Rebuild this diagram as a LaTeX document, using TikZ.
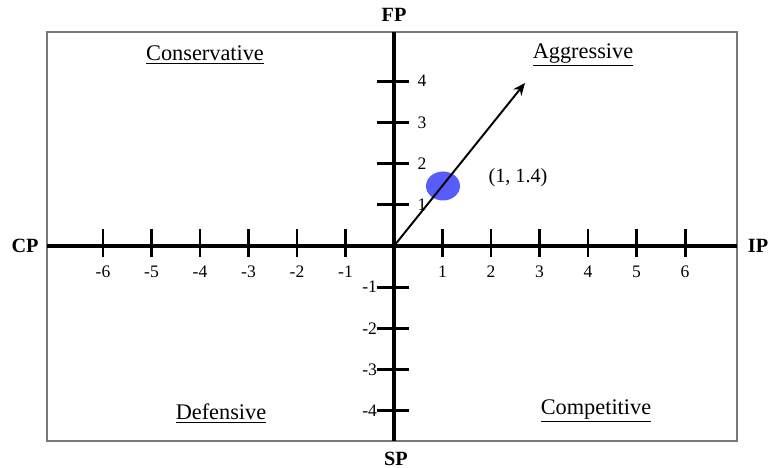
\documentclass[tikz,border=0pt]{standalone}
\usepackage{fontspec}
\setmainfont{Liberation Serif}
\usepackage{tikz}
\usetikzlibrary{arrows.meta, positioning, shapes}
\definecolor{pointBlue}{RGB}{88,92,250}
\definecolor{frameGray}{RGB}{120,120,120}

\begin{document}
\begin{tikzpicture}[
    x=0.97cm, y=0.824cm,
    axis/.style={line width=2.3pt, black},
    tickmark/.style={line width=1.7pt, black},
    ticklabel/.style={font=\fontsize{10}{12}\selectfont, inner sep=1pt},
    axislabel/.style={font=\fontsize{11.5}{13}\selectfont\bfseries, inner sep=1pt},
    quadrant/.style={font=\fontsize{12.7}{15}\selectfont, inner sep=1pt}
  ]
    \useasboundingbox (-7.88cm,-4.44cm) rectangle (7.48cm,4.92cm);

    % frame
    \draw[frameGray, line width=0.9pt] (-6.94cm,-3.9cm) rectangle (6.86cm,4.28cm);

    % axes
    \coordinate (O) at (0,0);
    \coordinate (W) at (-6.94cm,0);
    \coordinate (E) at (6.86cm,0);
    \coordinate (N) at (0,4.28cm);
    \coordinate (S) at (0,-3.9cm);
    \draw[axis] (W) -- (E);
    \draw[axis] (N) -- (S);

    % ticks
    \foreach \i in {-6,...,-1,1,2,...,6} {
      \draw[tickmark] (\i,0) ++(0,0.33cm) -- ++(0,-0.55cm);
      \node[ticklabel] (xt\i) at ([yshift=-0.52cm]\i,0) {\i};
    }
    \foreach \j in {1,...,4} {
      \draw[tickmark] (0,\j) ++(-0.35cm,0) -- ++(0.65cm,0);
      \node[ticklabel] (yt\j) at ([xshift=0.56cm]0,\j) {\j};
    }
    \foreach \j in {-1,-2,-3,-4} {
      \draw[tickmark] (0,\j) ++(-0.35cm,0) -- ++(0.65cm,0);
      \node[ticklabel, anchor=east] (yt\j) at ([xshift=-0.3cm]0,\j) {\j};
    }

    % axis names
    \node[axislabel] (fp) at (0,4.62cm) {FP};
    \node[axislabel] (sp) at (0.04cm,-4.26cm) {SP};
    \node[axislabel] (cp) at (-7.38cm,0) {CP};
    \node[axislabel] (ip) at (7.28cm,0) {IP};

    % quadrants
    \node[quadrant] (cons) at (-3.78cm,3.82cm) {\underline{Conservative}};
    \node[quadrant] (aggr) at (3.78cm,3.82cm) {\underline{Aggressive}};
    \node[quadrant] (defe) at (-3.46cm,-3.36cm) {\underline{Defensive}};
    \node[quadrant] (comp) at (4.04cm,-3.3cm) {\underline{Competitive}};

    % position vector
    \node[ellipse, fill=pointBlue, minimum width=0.68cm, minimum height=0.58cm,
          inner sep=0pt] (pt) at (0.98cm,1.2cm) {};
    \node[font=\fontsize{11.5}{13}\selectfont] (ptlabel) at (2.48cm,1.36cm) {(1, 1.4)};
    \coordinate (tip) at (2.62cm,3.26cm);
    \draw[-{Stealth[length=7pt, width=6pt]}, line width=1.1pt] (O) -- (tip);
  \end{tikzpicture}
\end{document}
